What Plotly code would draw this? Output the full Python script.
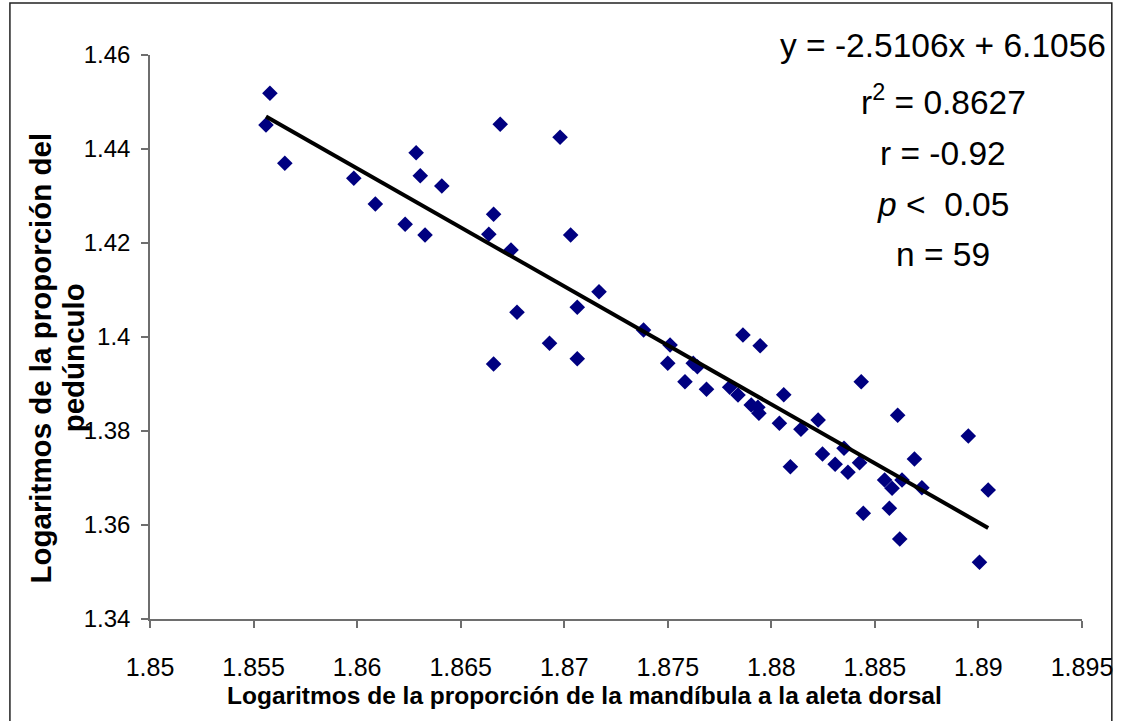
import plotly.graph_objects as go

# ---- data ----
x_vals = [1.85579, 1.85560, 1.85651, 1.85984, 1.86088, 1.86232, 1.86285, 1.86305, 1.86409, 1.86328,
          1.86691, 1.86980, 1.86659, 1.86636, 1.86743, 1.87031, 1.87168, 1.87063, 1.86772, 1.86929,
          1.86659, 1.87063,
          1.87383, 1.87511, 1.87500, 1.87623, 1.87643, 1.87583, 1.87687, 1.87799, 1.87839, 1.87863,
          1.87946, 1.87903, 1.87935, 1.87940, 1.88060, 1.88039, 1.88143, 1.88226, 1.88092, 1.88247,
          1.88308, 1.88351, 1.88370, 1.88426, 1.88434, 1.88610, 1.88691, 1.88547, 1.88583, 1.88631,
          1.88727, 1.88444, 1.88570, 1.88620, 1.88951, 1.89047, 1.89005]
y_vals = [1.45185, 1.44511, 1.43696, 1.43377, 1.42830, 1.42398, 1.43921, 1.43432, 1.43213, 1.42170,
          1.44526, 1.44249, 1.42611, 1.42185, 1.41851, 1.42170, 1.40964, 1.40632, 1.40526, 1.39866,
          1.39426, 1.39538,
          1.40149, 1.39830, 1.39440, 1.39440, 1.39368, 1.39049, 1.38887, 1.38930, 1.38766, 1.40043,
          1.39815, 1.38553, 1.38504, 1.38377, 1.38772, 1.38164, 1.38036, 1.38234, 1.37240, 1.37511,
          1.37291, 1.37632, 1.37121, 1.37326, 1.39049, 1.38334, 1.37404, 1.36957, 1.36781, 1.36957,
          1.36794, 1.36249, 1.36355, 1.35702, 1.37894, 1.36745, 1.35206]

slope = -2.5106
intercept = 6.1056

x_tickvals = [1.85, 1.855, 1.86, 1.865, 1.87, 1.875, 1.88, 1.885, 1.89, 1.895]
x_ticktext = ["1.85", "1.855", "1.86", "1.865", "1.87", "1.875", "1.88", "1.885", "1.89", "1.895"]
y_tickvals = [1.34, 1.36, 1.38, 1.40, 1.42, 1.44, 1.46]
y_ticktext = ["1.34", "1.36", "1.38", "1.4", "1.42", "1.44", "1.46"]

stats_lines = ["y = -2.5106x + 6.1056", "r<sup>2</sup> = 0.8627", "r = -0.92",
               "<i>p</i> &lt;  0.05", "n = 59"]

x_title = "Logaritmos de la proporción de la mandíbula a la aleta dorsal"
y_title_lines = ["Logaritmos de la proporción del", "pedúnculo"]

# ---- figure ----
fit_x = [min(x_vals), max(x_vals)]
fit_y = [slope * v + intercept for v in fit_x]

fig = go.Figure()
fig.add_trace(go.Scatter(
    x=x_vals, y=y_vals, mode="markers",
    marker=dict(symbol="diamond", size=12, color="#000080", line=dict(width=0)),
    showlegend=False, hoverinfo="x+y"))
fig.add_trace(go.Scatter(
    x=fit_x, y=fit_y, mode="lines",
    line=dict(color="black", width=4),
    showlegend=False, hoverinfo="skip"))

axis_color = "#6e6e6e"
fig.update_layout(
    width=1125, height=721,
    margin=dict(l=150, r=37, t=55, b=102, pad=0),
    paper_bgcolor="white", plot_bgcolor="white",
    font=dict(family="Liberation Sans, Arial, sans-serif", color="black"),
    xaxis=dict(
        range=[1.85, 1.895], tickvals=x_tickvals, ticktext=x_ticktext,
        showgrid=False, zeroline=False, showline=True, linecolor=axis_color, linewidth=1.5,
        ticks="outside", ticklen=7, tickcolor=axis_color, tickwidth=1.5,
        ticklabelstandoff=18,
        tickfont=dict(family="Liberation Sans Narrow, Arial Narrow, Liberation Sans, Arial", size=25, color="black"),
    ),
    yaxis=dict(
        range=[1.34, 1.46], tickvals=y_tickvals, ticktext=y_ticktext,
        showgrid=False, zeroline=False, showline=True, linecolor=axis_color, linewidth=1.5,
        ticks="outside", ticklen=7, tickcolor=axis_color, tickwidth=1.5,
        ticklabelstandoff=6,
        tickfont=dict(family="Liberation Sans, Arial", size=24, color="black"),
    ),
    shapes=[dict(type="rect", xref="paper", yref="paper",
                 x0=-0.1503, x1=1.032, y0=-0.19, y1=1.0922,
                 line=dict(color="#222222", width=1.5), fillcolor="rgba(0,0,0,0)", layer="below")],
)

# axis titles
fig.add_annotation(text=x_title, xref="paper", yref="paper", x=0.466, y=-0.1348,
                   xanchor="center", yanchor="middle", showarrow=False,
                   font=dict(family="Liberation Sans, Arial", size=24.5, color="black", weight="bold"))
y_title_x_px = [40, 73]
for txt, px in zip(y_title_lines, y_title_x_px):
    fig.add_annotation(text=txt, xref="paper", yref="paper", x=(px - 150) / 938, y=0.463,
                       xanchor="center", yanchor="middle", showarrow=False, textangle=-90,
                       font=dict(family="Liberation Sans, Arial", size=29.5, color="black", weight="bold"))

# statistics text
stat_y_px = [45, 100, 153, 204, 255]
for txt, py in zip(stats_lines, stat_y_px):
    fig.add_annotation(text=txt, xref="paper", yref="paper", x=0.851, y=(619 - py) / 564,
                       xanchor="center", yanchor="middle", showarrow=False,
                       font=dict(family="Liberation Sans, Arial", size=33.5, color="black"))

fig.write_html("out.html")
